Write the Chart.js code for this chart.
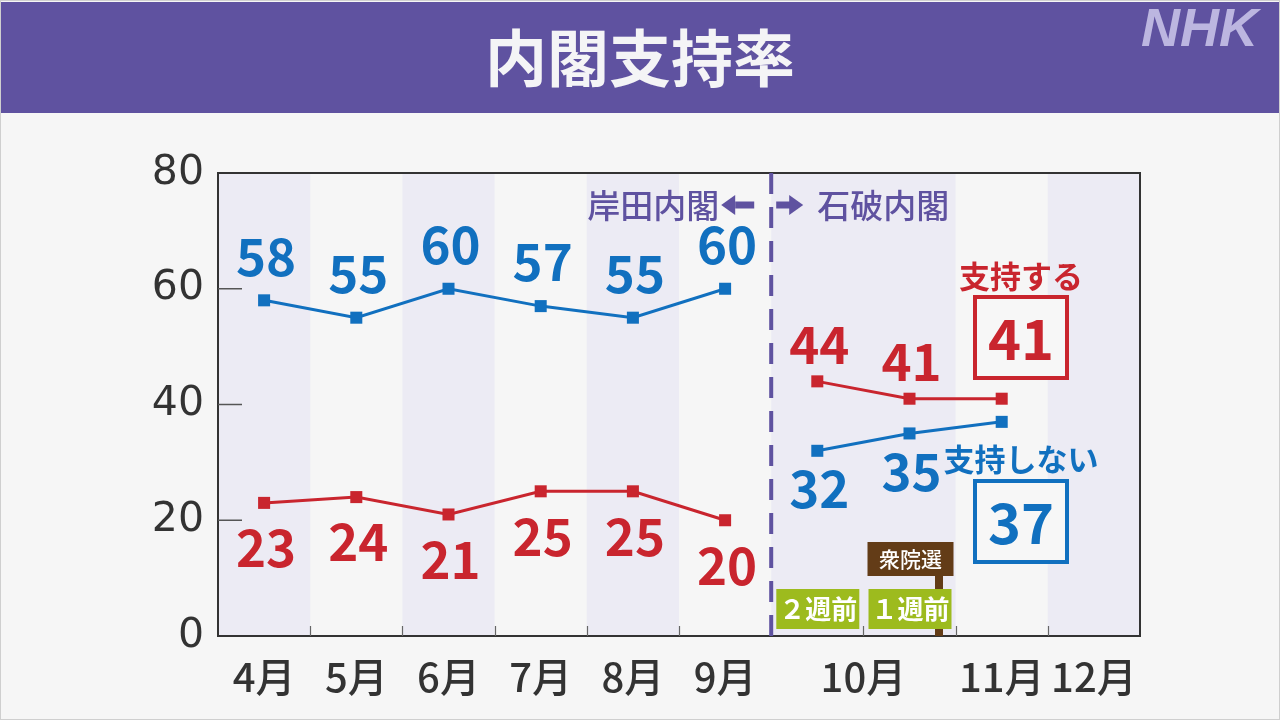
<!DOCTYPE html>
<html><head><meta charset="utf-8">
<script src="https://cdn.jsdelivr.net/npm/chart.js@4.4.1/dist/chart.umd.min.js"></script>
<style>html,body{margin:0;padding:0;background:#f6f6f6;overflow:hidden}canvas{display:block}</style>
</head><body><canvas id="c" width="1280" height="720"></canvas>
<script>
// ---- data ----
const title = '内閣支持率';
const periods = ['4月','5月','6月','7月','8月','9月','10月2週前','10月1週前','11月'];
const disapprove = [58,55,60,57,55,60,32,35,37];
const approve = [23,24,21,25,25,20,44,41,41];
const axisLabels = ['4月','5月','6月','7月','8月','9月','10月','11月','12月'];
const yTicks = [0,20,40,60,80];
const seriesNames = ['支持する','支持しない'];
const cabinetLabels = ['岸田内閣','石破内閣'];
const weekLabels = ['２週前','１週前'];
const electionLabel = '衆院選';

// ---- layout (axis units: one month = 1) ----
const periodPos = periods.map((p,i)=>i+0.5);
const axisLabelPos = [0.5,1.5,2.5,3.5,4.5,5.5,7,8.5,9.5];
const cabinetSplit = 6;
const lastKishida = 5;
const electionPos = 7.82;
const shadedBands = [[0,1],[2,3],[4,5],[6,8],[9,10]];

const FONT = "'Noto Sans CJK JP','Noto Sans',sans-serif";
const BLUE = '#1170bf', RED = '#c9252e', PURPLE = '#5f52a0';
const BG = '#f6f6f6', SHADE = '#ecebf4';

function pts(vals){ return vals.map((v,i)=>({x:periodPos[i], y:v})); }

function arrow(ctx, x1, x2, y){
  const dir = Math.sign(x2-x1), head = 14;
  ctx.fillRect(Math.min(x1, x2-dir*head), y-3.5, Math.abs(x2-x1)-head+1, 7);
  ctx.beginPath();
  ctx.moveTo(x2, y);
  ctx.lineTo(x2-dir*head, y-10);
  ctx.lineTo(x2-dir*head, y+10);
  ctx.closePath(); ctx.fill();
}

const deco = {
  id:'deco',
  beforeDraw(chart){
    const {ctx, chartArea:a, scales:{x}} = chart;
    ctx.save();
    ctx.fillStyle = '#cfcfcf'; ctx.fillRect(0,0,1280,720);
    ctx.fillStyle = BG; ctx.fillRect(1,1,1278,718);
    ctx.fillStyle = PURPLE; ctx.fillRect(1,2,1278,111);
    ctx.fillStyle = '#f4f4f6';
    ctx.font = `bold 62px ${FONT}`;
    ctx.textAlign = 'center'; ctx.textBaseline = 'middle';
    ctx.fillText(title, 640, 58);
    ctx.fillStyle = '#bcb6e0';
    ctx.font = "italic bold 54px 'Liberation Sans'";
    ctx.textAlign = 'right';
    ctx.fillText('NHK', 1258, 31);
    ctx.fillStyle = SHADE;
    shadedBands.forEach(([s,e])=>{
      const p0 = x.getPixelForValue(s), p1 = x.getPixelForValue(e);
      ctx.fillRect(p0, a.top, p1-p0, a.bottom-a.top);
    });
    ctx.restore();
  },
  beforeDatasetsDraw(chart){
    const {ctx, chartArea:a, scales:{x,y}} = chart;
    ctx.save();
    ctx.strokeStyle = '#666'; ctx.lineWidth = 1.2;
    for(let i=1;i<10;i++){
      if(i===cabinetSplit) continue;
      const px = Math.round(x.getPixelForValue(i))+0.5;
      ctx.beginPath(); ctx.moveTo(px, a.bottom); ctx.lineTo(px, a.bottom-10); ctx.stroke();
    }
    ctx.strokeStyle = '#555'; ctx.lineWidth = 1.5;
    yTicks.slice(1,-1).forEach(v=>{
      const py = y.getPixelForValue(v);
      ctx.beginPath(); ctx.moveTo(a.left, py); ctx.lineTo(a.left+24, py); ctx.stroke();
    });
    // frame top/right
    ctx.strokeStyle = '#333'; ctx.lineWidth = 2;
    ctx.beginPath(); ctx.moveTo(a.left, a.top); ctx.lineTo(a.right, a.top); ctx.lineTo(a.right, a.bottom); ctx.stroke();
    // cabinet divider
    const xs = x.getPixelForValue(cabinetSplit);
    ctx.strokeStyle = PURPLE; ctx.lineWidth = 4; ctx.setLineDash([21,13]);
    ctx.beginPath(); ctx.moveTo(xs, a.top); ctx.lineTo(xs, a.bottom); ctx.stroke();
    ctx.setLineDash([]);
    ctx.fillStyle = PURPLE;
    ctx.font = `500 33px ${FONT}`; ctx.textBaseline = 'middle';
    ctx.textAlign = 'right'; ctx.fillText(cabinetLabels[0], xs-52, 205);
    ctx.textAlign = 'left'; ctx.fillText(cabinetLabels[1], xs+46, 205);
    arrow(ctx, xs-18, xs-50, 205);
    arrow(ctx, xs+5, xs+32, 205);
    // election marker
    const xe = x.getPixelForValue(electionPos);
    ctx.fillStyle = '#633c17';
    ctx.fillRect(xe-4, 570, 8, a.bottom-570);
    const xb = x.getPixelForValue(7.5);
    ctx.fillRect(xb-42, 542, 86, 34);
    ctx.fillStyle = '#fff'; ctx.textAlign = 'center';
    ctx.font = `500 21px ${FONT}`;
    ctx.fillText(electionLabel, xb+1, 559);
    // week boxes
    [6.5,7.5].forEach((v,i)=>{
      const c = x.getPixelForValue(v);
      ctx.fillStyle = '#9dbb1e'; ctx.fillRect(c-41, 589, 83, 40);
      ctx.fillStyle = '#fff'; ctx.font = `bold 26px ${FONT}`;
      ctx.fillText(weekLabels[i], c+1, 609);
    });
    ctx.restore();
  },
  afterDatasetsDraw(chart){
    const {ctx} = chart;
    ctx.save();
    ctx.textAlign = 'center'; ctx.textBaseline = 'middle';
    ctx.font = `bold 51px ${FONT}`;
    const drawLabels = (dsIdx, vals, color, offBefore, offAfter)=>{
      const meta = chart.getDatasetMeta(dsIdx);
      ctx.fillStyle = color;
      vals.forEach((v,i)=>{
        if(i===vals.length-1) return;
        const el = meta.data[i];
        const off = i<=lastKishida ? offBefore : offAfter;
        ctx.fillText(String(v), el.x+2, el.y+off);
      });
    };
    drawLabels(0, disapprove, BLUE, -44, 38);
    drawLabels(1, approve, RED, 45, -37);
    // boxed latest values
    const bx = 1021;
    const boxes = [
      {name:seriesNames[0], val:approve[approve.length-1], color:RED, ny:276, top:297},
      {name:seriesNames[1], val:disapprove[disapprove.length-1], color:BLUE, ny:459, top:481}
    ];
    boxes.forEach(b=>{
      ctx.fillStyle = b.color;
      ctx.font = `bold 31px ${FONT}`;
      ctx.fillText(b.name, bx, b.ny);
      ctx.fillStyle = '#f7f7f7';
      ctx.fillRect(bx-46, b.top, 92, 81);
      ctx.strokeStyle = b.color; ctx.lineWidth = 4;
      ctx.strokeRect(bx-46, b.top, 92, 81);
      ctx.fillStyle = b.color;
      ctx.font = `bold 56px ${FONT}`;
      ctx.fillText(String(b.val), bx, b.top+42);
    });
    ctx.restore();
  }
};

const seg = color => ({ borderColor: c => c.p0DataIndex===lastKishida ? 'rgba(0,0,0,0)' : color });

new Chart(document.getElementById('c'), {
  type:'line',
  data:{
    datasets:[
      {label:seriesNames[1], data:pts(disapprove), borderColor:BLUE, backgroundColor:BLUE,
       borderWidth:3, pointStyle:'rect', pointRadius:8.5, pointBorderWidth:0, segment:seg(BLUE)},
      {label:seriesNames[0], data:pts(approve), borderColor:RED, backgroundColor:RED,
       borderWidth:3, pointStyle:'rect', pointRadius:8.5, pointBorderWidth:0, segment:seg(RED)}
    ]
  },
  options:{
    responsive:false, animation:false, devicePixelRatio:1,
    layout:{padding:{top:173, right:140, left:0, bottom:0}},
    plugins:{legend:{display:false}, tooltip:{enabled:false}},
    scales:{
      x:{type:'linear', min:0, max:10,
        afterBuildTicks: ax => { ax.ticks = axisLabelPos.map(v=>({value:v})); },
        afterFit: s => { s.height = 84; },
        grid:{display:false, drawTicks:false},
        border:{display:true, color:'#333', width:2},
        ticks:{autoSkip:false, maxRotation:0, padding:17, color:'#333',
          font:{family:FONT, size:40, weight:'500'},
          callback: v => { const i = axisLabelPos.indexOf(v); return i>=0 ? axisLabels[i] : ''; }}
      },
      y:{min:0, max:80,
        afterBuildTicks: ax => { ax.ticks = yTicks.map(v=>({value:v})); },
        afterFit: s => { s.width = 218; },
        grid:{display:false, drawTicks:false},
        border:{display:true, color:'#333', width:2},
        ticks:{padding:14, color:'#333', font:{family:"'DejaVu Sans'", size:41, weight:'normal'}}
      }
    }
  },
  plugins:[deco]
});
</script>
</body></html>
